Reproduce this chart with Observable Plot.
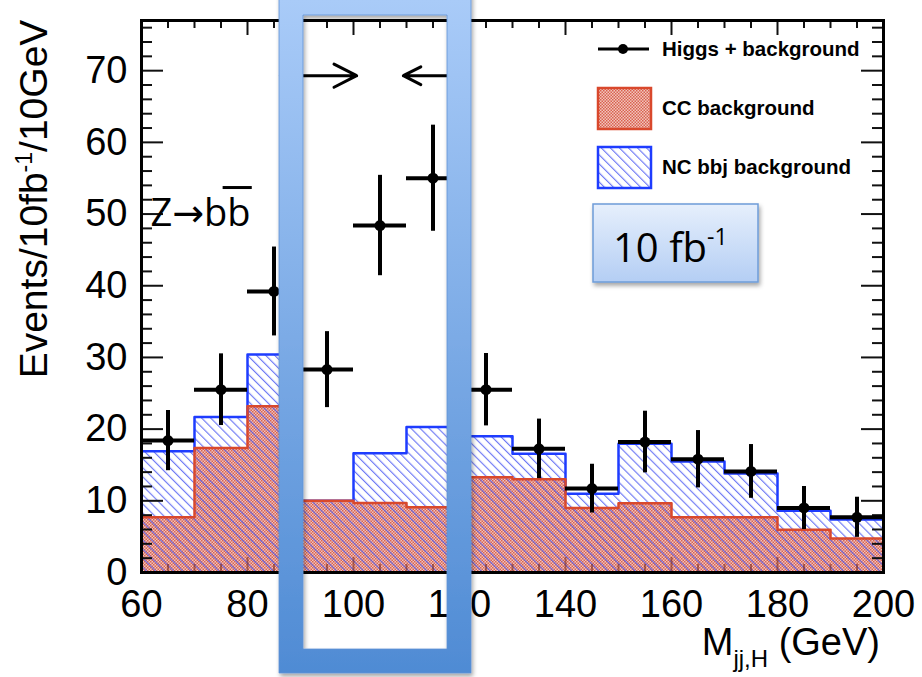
<!DOCTYPE html>
<html>
<head>
<meta charset="utf-8">
<script src="https://cdn.jsdelivr.net/npm/d3@7"></script>
<script src="https://cdn.jsdelivr.net/npm/@observablehq/plot@0.6"></script>
<style>
  body { margin: 0; background: #fff; }
  #chart { position: relative; width: 922px; height: 677px; }
</style>
</head>
<body>
<div id="chart"></div>
<script>
// Dijet invariant mass, 10 GeV bins from 60 to 200 GeV
const binEdges = [60, 70, 80, 90, 100, 110, 120, 130, 140, 150, 160, 170, 180, 190, 200];
// Higgs + background pseudo-data and its statistical error
const higgsPlusBkg = [18.4, 25.5, 39.2, 28.3, 48.4, 55.0, 25.5, 17.25, 11.7, 18.2, 15.8, 14.1, 9.0, 7.7];
const higgsErr     = [4.2, 5.0, 6.2, 5.3, 7.0, 7.4, 5.05, 4.15, 3.4, 4.3, 4.0, 3.75, 3.0, 2.8];
// Stacked backgrounds: CC underneath, NC bbj on top
const ccBkg    = [7.7, 17.35, 23.2, 10.0, 9.7, 9.1, 13.3, 13.0, 9.0, 9.65, 7.7, 7.7, 5.95, 4.75];
const ncBbjBkg = [9.2, 4.35, 7.2, 0.0, 6.95, 11.2, 5.7, 3.55, 2.0, 8.3, 7.8, 6.1, 2.65, 2.65];
// Axis tick labels
const xTickLabels = [60, 80, 100, 120, 140, 160, 180, 200];
const yTickLabels = [0, 10, 20, 30, 40, 50, 60, 70];
// Arrows marking the Higgs mass window
const windowArrows = [{from: 86.2, to: 100.6}, {from: 120.5, to: 109.4}];
const arrowLevel = 69.3;
// Z peak annotation
const zLabel = [{x: 61.7, y: 48.3, text: "Z→bb"}];
const zBar = [{y: 53.7, x1: 75.4, x2: 80.9}];

// layout
const W = 922, H = 677;
const M = {left: 141, right: 39, top: 20, bottom: 105};
const xDomain = [60, 200], yDomain = [0, 77];
const pxPerX = (W - M.left - M.right) / (xDomain[1] - xDomain[0]);
const pxPerY = (H - M.top - M.bottom) / (yDomain[1] - yDomain[0]);

const bins = ccBkg.map((cc, i) => ({
  x1: binEdges[i],
  x2: binEdges[i + 1],
  xc: (binEdges[i] + binEdges[i + 1]) / 2,
  cc,
  total: cc + ncBbjBkg[i],
  obs: higgsPlusBkg[i],
  err: higgsErr[i]
}));

// Histogram outline as a step path closed down to zero at both ends
const stepOutline = key => [
  {x: binEdges[0], y: 0},
  ...bins.flatMap(b => [{x: b.x1, y: b[key]}, {x: b.x2, y: b[key]}]),
  {x: binEdges[binEdges.length - 1], y: 0}
];

const seq = (a, b, s) => d3.range(a, b + s / 2, s);
// inward ROOT-style ticks: lengths in pixels converted to data units
const yTickMarks = seq(0, 76, 2).map(v => ({v, len: (v % 10 === 0 ? 22 : 11) / pxPerX}));
const xTickMarks = seq(60, 200, 5).map(v => ({v, len: (v % 20 === 0 ? 15 : 8) / pxPerY}));

const svg = Plot.plot({
  width: W,
  height: H,
  marginLeft: M.left,
  marginRight: M.right,
  marginTop: M.top,
  marginBottom: M.bottom,
  style: {fontFamily: "'Liberation Sans', Arial, Helvetica, sans-serif", background: "white", overflow: "visible"},
  x: {domain: xDomain},
  y: {domain: yDomain},
  marks: [
    // CC background fill (fine red texture)
    Plot.rectY(bins, {x1: "x1", x2: "x2", y1: 0, y2: "cc", fill: "url(#ccFill)", inset: 0}),
    // NC bbj hatch over the full stack
    Plot.rectY(bins, {x1: "x1", x2: "x2", y1: 0, y2: "total", fill: "url(#ncHatch)", inset: 0}),
    // outlines
    Plot.line(stepOutline("total"), {x: "x", y: "y", stroke: "#1e3cff", strokeWidth: 2.5, curve: "linear"}),
    Plot.line(stepOutline("cc"), {x: "x", y: "y", stroke: "#d9482c", strokeWidth: 2.5, curve: "linear"}),

    // ticks on all four sides, pointing inward
    Plot.ruleY(yTickMarks, {y: "v", x1: () => xDomain[0], x2: d => xDomain[0] + d.len, stroke: "#111", strokeWidth: 2}),
    Plot.ruleY(yTickMarks, {y: "v", x1: d => xDomain[1] - d.len, x2: () => xDomain[1], stroke: "#111", strokeWidth: 2}),
    Plot.ruleX(xTickMarks, {x: "v", y1: () => yDomain[1], y2: d => yDomain[1] - d.len, stroke: "#111", strokeWidth: 2}),
    Plot.ruleX(xTickMarks, {x: "v", y1: () => yDomain[0], y2: d => yDomain[0] + d.len, stroke: "#7a2a20", strokeOpacity: 0.6, strokeWidth: 2}),

    // tick labels
    Plot.axisY(yTickLabels, {anchor: "left", tickSize: 0, tickPadding: 14, fontSize: 38, label: null}),
    Plot.axisX(xTickLabels, {anchor: "bottom", tickSize: 0, tickPadding: 18, fontSize: 38, label: null}),

    // Higgs + background points with error bars
    Plot.ruleX(bins, {x: "xc", y1: d => d.obs - d.err, y2: d => d.obs + d.err, stroke: "black", strokeWidth: 4}),
    Plot.ruleY(bins, {y: "obs", x1: "x1", x2: "x2", stroke: "black", strokeWidth: 4}),
    Plot.dot(bins, {x: "xc", y: "obs", r: 5.5, fill: "black"}),

    // mass window arrows
    Plot.arrow(windowArrows, {x1: "from", x2: "to", y1: arrowLevel, y2: arrowLevel, stroke: "black", strokeWidth: 3, headLength: 13.4, headAngle: 54}),

    // Z -> b bbar label
    Plot.text(zLabel, {x: "x", y: "y", text: "text", textAnchor: "start", lineAnchor: "bottom", fontSize: 38, fill: "black", fontFamily: "'Open Sans', 'DejaVu Sans', sans-serif"}),
    Plot.ruleY(zBar, {y: "y", x1: "x1", x2: "x2", stroke: "black", strokeWidth: 3}),

    Plot.frame({stroke: "black", strokeWidth: 3})
  ]
});

const root = d3.select(svg);
const defs = root.insert("defs", ":first-child");

// fine red texture for the CC background
const ccPat = defs.append("pattern").attr("id", "ccFill").attr("patternUnits", "userSpaceOnUse")
  .attr("width", 3).attr("height", 3);
ccPat.append("rect").attr("width", 3).attr("height", 3).attr("fill", "#f1c6bd");
ccPat.append("rect").attr("x", 0).attr("y", 0).attr("width", 1.5).attr("height", 1.5).attr("fill", "#d9614f");
ccPat.append("rect").attr("x", 1.5).attr("y", 1.5).attr("width", 1.5).attr("height", 1.5).attr("fill", "#d9614f");

// diagonal blue hatch for NC bbj
const ncPat = defs.append("pattern").attr("id", "ncHatch").attr("patternUnits", "userSpaceOnUse")
  .attr("width", 6.4).attr("height", 6.4).attr("patternTransform", "rotate(-45)");
ncPat.append("line").attr("x1", 0.6).attr("y1", 0).attr("x2", 0.6).attr("y2", 6.4)
  .attr("stroke", "#4a58f2").attr("stroke-width", 1.1).attr("stroke-opacity", 0.85);

const shadow = defs.append("filter").attr("id", "shadow").attr("x", "-10%").attr("y", "-10%")
  .attr("width", "130%").attr("height", "130%");
shadow.append("feDropShadow").attr("dx", 1.5).attr("dy", 3).attr("stdDeviation", 2.2)
  .attr("flood-color", "#000").attr("flood-opacity", 0.35);

const windowGrad = defs.append("linearGradient").attr("id", "windowGrad")
  .attr("gradientUnits", "userSpaceOnUse").attr("x1", 0).attr("y1", 0).attr("x2", 0).attr("y2", 673);
windowGrad.append("stop").attr("offset", 0).attr("stop-color", "#a9cbf8");
windowGrad.append("stop").attr("offset", 1).attr("stop-color", "#4f8bd4");

const boxGrad = defs.append("linearGradient").attr("id", "boxGrad")
  .attr("x1", 0).attr("y1", 0).attr("x2", 0).attr("y2", 1);
boxGrad.append("stop").attr("offset", 0).attr("stop-color", "#e6effc");
boxGrad.append("stop").attr("offset", 1).attr("stop-color", "#b4cef4");

// axis titles
const yTitle = root.append("text")
  .attr("transform", "translate(47,199) rotate(-90)")
  .attr("text-anchor", "middle")
  .attr("font-size", 39)
  .attr("fill", "black");
yTitle.append("tspan").text("Events/10fb");
yTitle.append("tspan").attr("font-size", 23).attr("dy", -15).text("-1");
yTitle.append("tspan").attr("dy", 15).text("/10GeV");

const xTitle = root.append("text")
  .attr("x", 880).attr("y", 655)
  .attr("text-anchor", "end")
  .attr("font-size", 38)
  .attr("fill", "black");
xTitle.append("tspan").text("M");
xTitle.append("tspan").attr("font-size", 24).attr("dy", 12).text("jj,H");
xTitle.append("tspan").attr("dy", -12).text(" (GeV)");

// legend
const legend = root.append("g")
  .attr("font-size", 20.5).attr("font-weight", "bold").attr("fill", "black").attr("text-anchor", "start");
legend.append("line").attr("x1", 598).attr("x2", 649).attr("y1", 49).attr("y2", 49)
  .attr("stroke", "black").attr("stroke-width", 3);
legend.append("circle").attr("cx", 623).attr("cy", 49).attr("r", 5);
legend.append("text").attr("x", 662).attr("y", 49).attr("dy", "0.35em").text("Higgs + background");
legend.append("rect").attr("x", 598).attr("y", 88).attr("width", 53).attr("height", 41)
  .attr("fill", "url(#ccFill)").attr("stroke", "#d9482c").attr("stroke-width", 2.5);
legend.append("text").attr("x", 662).attr("y", 108).attr("dy", "0.35em").text("CC background");
legend.append("rect").attr("x", 598).attr("y", 147).attr("width", 53).attr("height", 41)
  .attr("fill", "white").attr("stroke", "none");
legend.append("rect").attr("x", 598).attr("y", 147).attr("width", 53).attr("height", 41)
  .attr("fill", "url(#ncHatch)").attr("stroke", "#1e3cff").attr("stroke-width", 2.5);
legend.append("text").attr("x", 662).attr("y", 167).attr("dy", "0.35em").text("NC bbj background");

// luminosity box
const lumi = root.append("g").attr("text-anchor", "start");
lumi.append("rect").attr("x", 593).attr("y", 204).attr("width", 165).attr("height", 78)
  .attr("fill", "url(#boxGrad)").attr("stroke", "#6e9cd8").attr("stroke-width", 1.5)
  .attr("filter", "url(#shadow)");
const lumiText = lumi.append("text").attr("x", 613).attr("y", 262)
  .attr("font-family", "'Open Sans', 'DejaVu Sans', sans-serif").attr("font-size", 40).attr("fill", "black");
lumiText.append("tspan").text("10 fb");
lumiText.append("tspan").attr("font-size", 23).attr("dy", -17).text("-1");

// highlighted mass window frame
root.append("path")
  .attr("d", "M279,-8H471V673H279Z M303,15V649H447V15Z")
  .attr("fill-rule", "evenodd")
  .attr("fill", "url(#windowGrad)")
  .attr("stroke", "#5f92d6").attr("stroke-width", 0.8)
  .attr("filter", "url(#shadow)");

document.getElementById("chart").appendChild(svg);
</script>
</body>
</html>
